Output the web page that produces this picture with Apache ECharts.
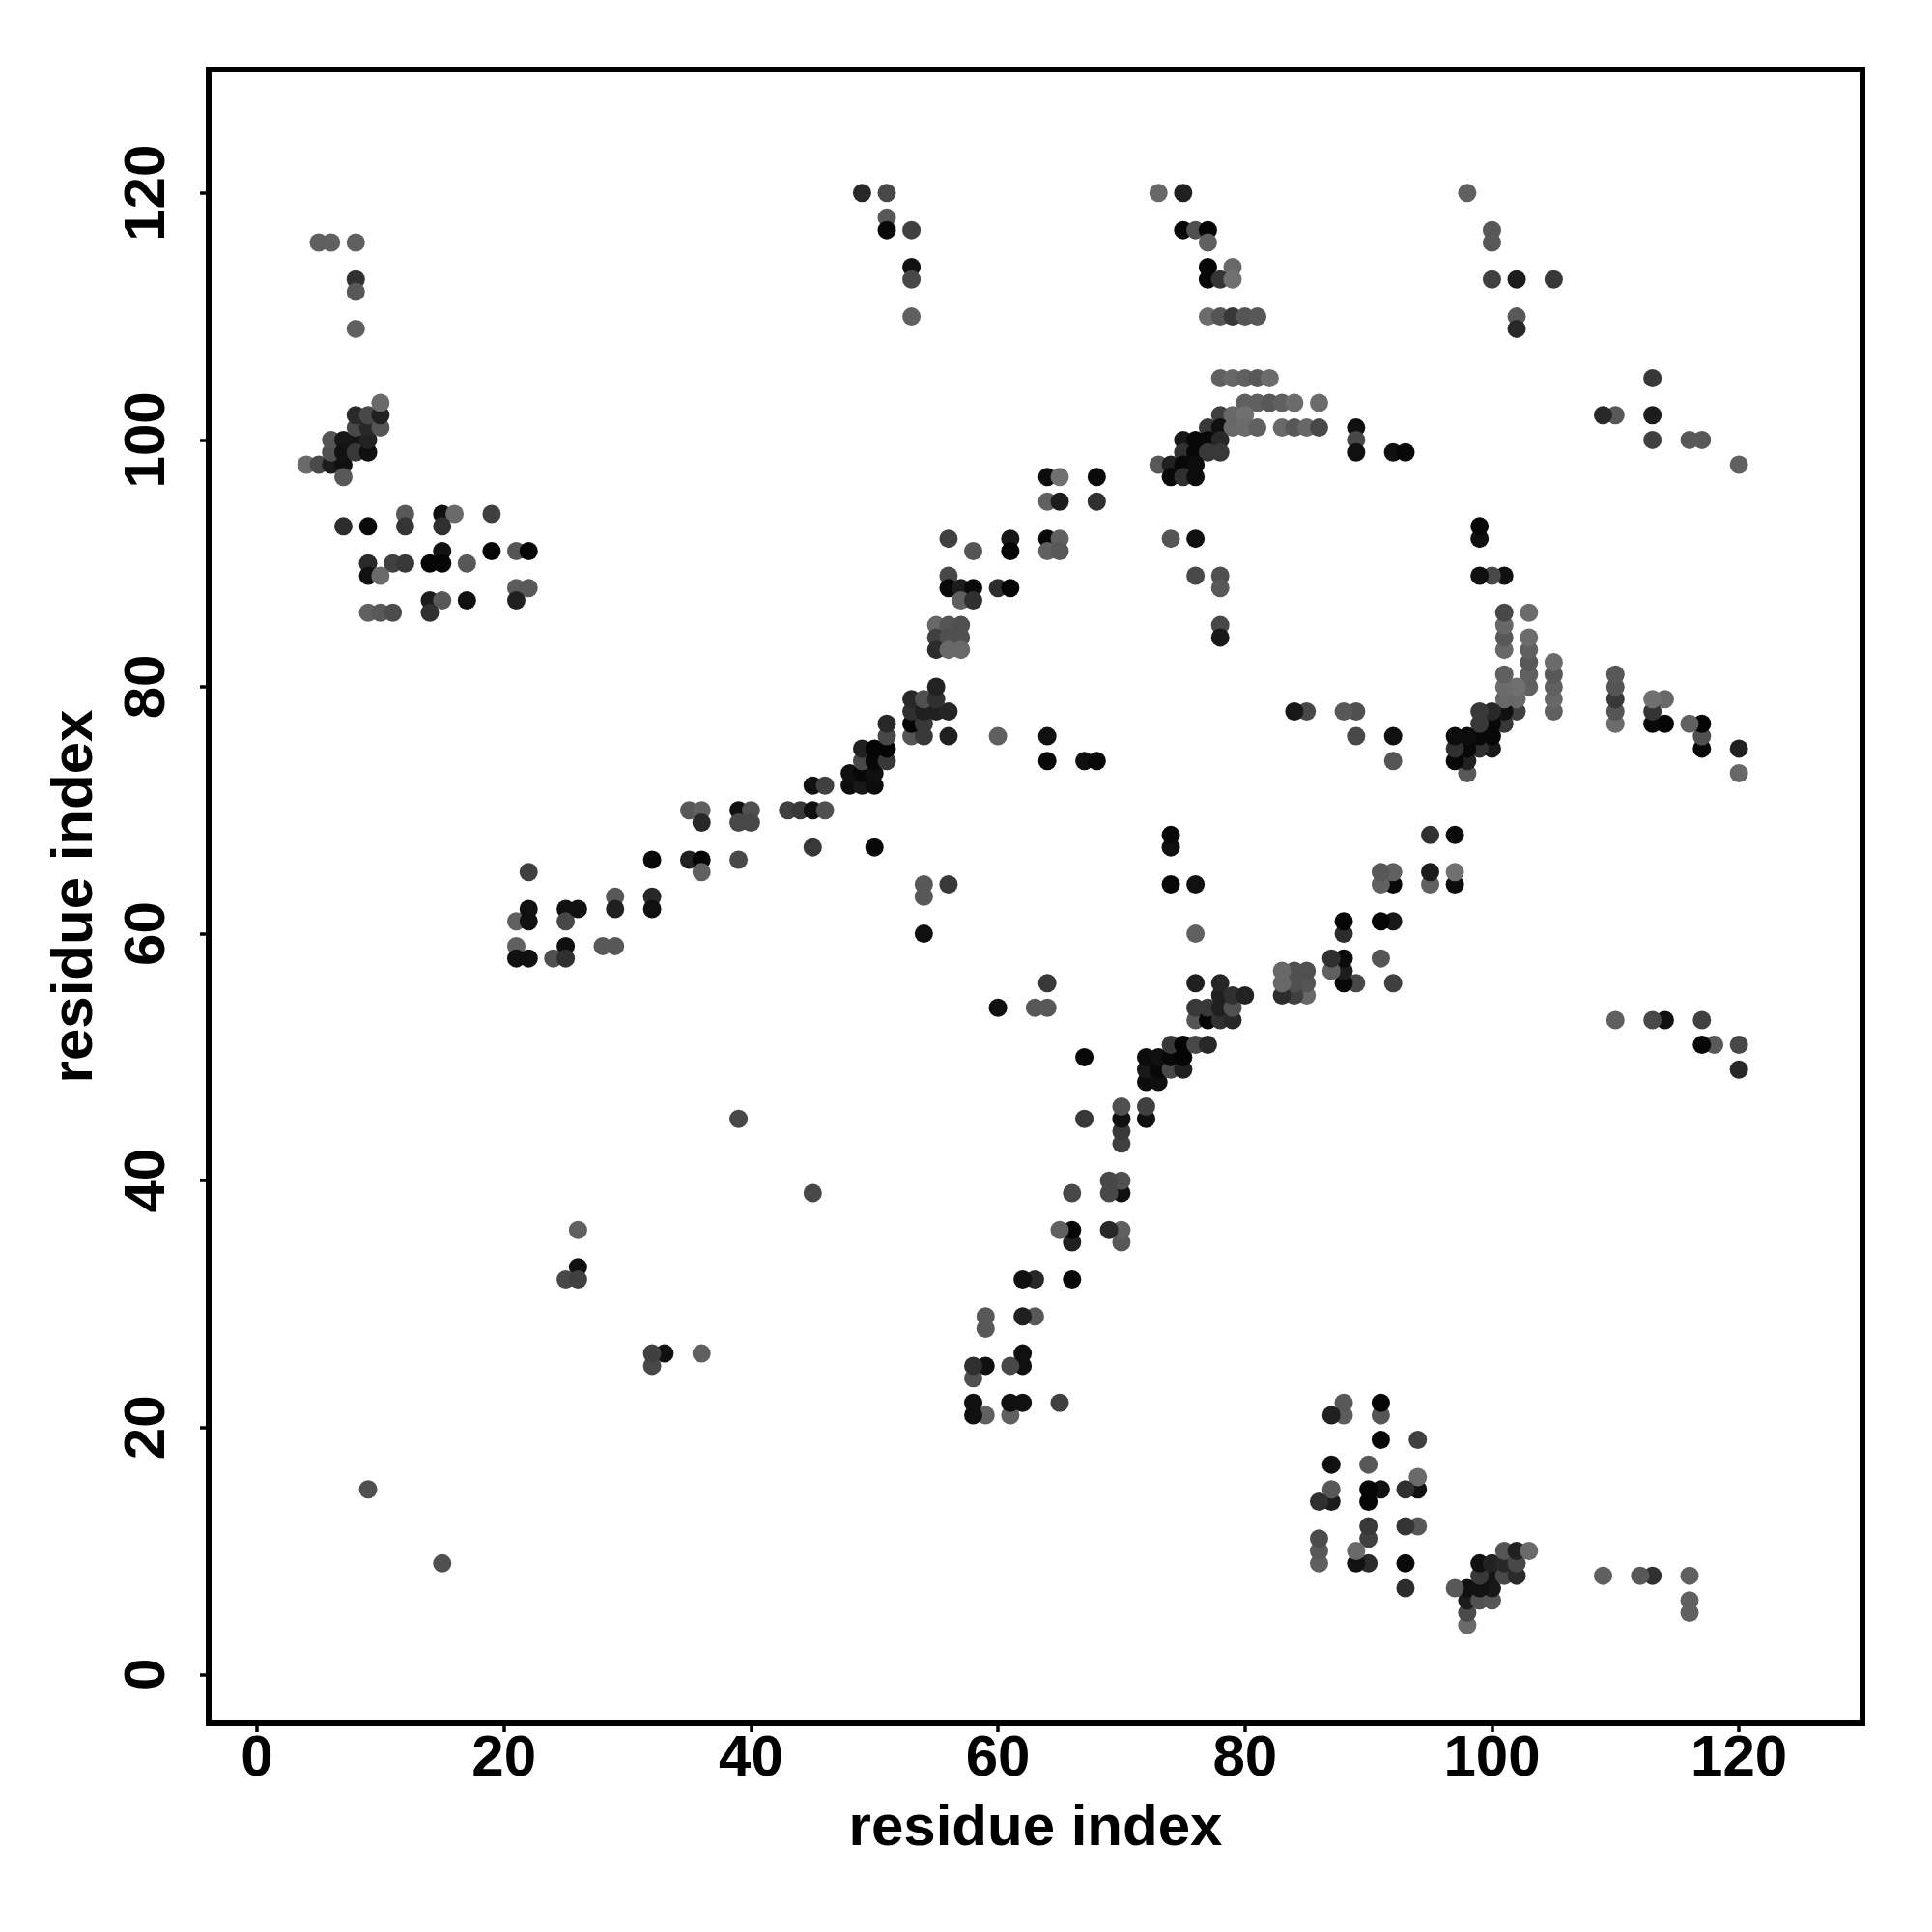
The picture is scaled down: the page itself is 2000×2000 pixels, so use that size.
<!DOCTYPE html>
<html><head><meta charset="utf-8">
<script src="https://cdn.jsdelivr.net/npm/echarts@6/dist/echarts.min.js"></script>
<style>html,body{margin:0;padding:0;background:#fff}#c{width:2000px;height:2000px}</style>
</head><body><div id="c"></div>
<script>
// Contacts: [residue i, residue j, grey level]. The map is symmetric, so each pair is listed once (i<j).
const xTicks=[0,20,40,60,80,100,120];
const yTicks=[0,20,40,60,80,100,120];
const axisTitle="residue index";
const clusterA=[[4,98,106],[5,98,74],[6,98,28],[7,98,16],[7,97,88],[6,99,80],[6,100,85],[7,100,24],[7,99,18],[8,100,21],[8,99,56],[9,99,16],[9,100,34],[8,101,72],[9,101,40],[8,102,42],[9,102,72],[10,101,85],[10,102,32],[10,103,106]];
const clusterB=[[12,94,88],[15,94,16],[16,94,106],[19,94,64],[7,93,44],[9,93,10],[12,93,53],[15,93,48],[15,91,18],[19,91,5],[21,91,85],[22,91,5],[9,90,42],[11,90,64],[12,90,56],[14,90,5],[15,90,5],[17,90,88],[9,89,18],[10,89,106],[21,88,92],[22,88,88],[14,87,28],[15,87,88],[17,87,16],[21,87,32],[9,86,96],[10,86,88],[11,86,76],[14,86,48]];
const clusterC=[[5,116,96],[6,116,96],[8,116,96],[8,113,48],[8,112,88],[8,109,96],[9,15,80]];
const clusterD=[[49,120,40],[51,120,72],[51,118,88],[51,117,8],[53,117,64],[53,114,16],[53,113,72],[53,110,96]];
const clusterE=[[73,120,104],[75,120,32],[75,117,8],[76,117,80],[77,117,5],[77,116,96],[77,114,5],[79,114,104],[77,113,8],[78,113,53],[79,113,112],[77,110,108],[78,110,85],[79,110,56],[80,110,85],[81,110,88],[78,105,96],[79,105,104],[80,105,96],[81,105,88],[82,105,108],[80,103,96],[81,103,96],[82,103,88],[83,103,96],[84,103,108],[86,103,108],[78,102,64],[79,102,104],[80,102,112],[77,101,56],[78,101,16],[79,101,104],[80,101,108],[81,101,96],[83,101,104],[84,101,88],[85,101,104],[86,101,72],[75,100,24],[76,100,8],[77,100,8],[78,100,40],[75,99,48],[76,99,8],[77,99,56],[78,99,56],[73,98,88],[74,98,32],[75,98,8],[76,98,12],[74,97,8],[75,97,48],[76,97,12]];
const clusterF=[[26,36,96],[26,33,16],[25,32,72],[26,32,64],[21,61,96],[21,59,96],[21,58,16],[22,65,64],[22,62,16],[22,61,16],[22,58,16],[24,58,80],[25,62,16],[25,61,72],[25,59,16],[25,58,48],[26,62,16],[28,59,88],[29,59,88],[29,63,88],[29,62,32],[32,66,8],[32,63,40],[32,62,16],[35,70,88],[35,66,32],[36,70,96],[36,69,40],[36,66,5],[36,65,96],[39,70,16],[39,69,72],[39,66,72],[40,70,80],[40,69,72],[39,45,72],[43,70,64],[44,70,56],[45,72,16],[45,70,16],[45,67,56],[46,72,64],[46,70,80]];
const clusterG=[[48,72,12],[49,72,24],[50,72,12],[48,73,16],[49,73,8],[50,73,16],[49,74,72],[50,74,8],[51,74,56],[49,75,32],[50,75,5],[51,75,5],[51,76,72],[51,77,40],[53,76,85],[54,76,56],[56,76,32],[60,76,96],[53,77,5],[54,77,56],[53,78,48],[54,78,32],[55,78,32],[56,78,37],[53,79,40],[54,79,80],[55,79,48],[55,80,34]];
const clusterH=[[64,97,12],[65,97,112],[68,97,10],[64,95,96],[65,95,28],[68,95,48],[56,92,64],[61,92,24],[64,92,8],[65,92,96],[58,91,85],[61,91,5],[64,91,96],[65,91,88],[56,89,72],[56,88,8],[57,88,28],[58,88,10],[60,88,44],[61,88,5],[57,87,96],[58,87,48],[55,85,104],[56,85,85],[57,85,80],[55,84,64],[56,84,80],[57,84,80],[55,83,44],[56,83,104],[57,83,104]];
const clusterI=[[54,64,88],[54,63,88],[54,60,16],[56,64,56],[64,76,16],[64,74,8],[67,74,16],[68,74,8],[50,67,8],[74,92,85],[76,92,16],[76,89,72],[78,89,80],[78,88,88],[78,85,72],[78,84,24],[89,101,16],[89,100,72],[89,99,16],[92,99,16],[93,99,8]];
const clusterJ=[[98,120,96],[100,117,88],[100,116,88],[100,113,64],[102,113,28],[105,113,56],[102,110,88],[102,109,40],[53,110,88],[53,113,56],[53,114,8],[53,117,16],[51,117,72],[51,118,85],[51,120,64],[49,120,56]];
const clusterK=[[101,86,72],[103,86,104],[101,85,104],[101,84,80],[103,84,108],[101,83,104],[103,83,88],[103,82,96],[105,82,108],[101,81,96],[103,81,96],[105,81,88],[110,81,88],[101,80,108],[102,80,112],[103,80,96],[105,80,96],[110,80,80],[101,79,96],[102,79,104],[105,79,104],[110,79,48],[113,79,108],[114,79,108],[101,78,16],[102,78,64],[105,78,80],[110,78,80],[113,78,44],[101,77,48],[110,77,104],[113,77,8],[114,77,8],[116,77,96],[117,77,2],[117,76,72],[117,75,5],[120,75,16],[120,73,88],[110,53,88],[113,53,48],[114,53,16],[117,53,32],[117,51,16],[118,51,64],[120,51,64],[120,49,56]];
const xMin=-3.91,xMax=130,yMin=-3.96,yMax=130;

const keyOf=(i,j)=>i<j?i+'_'+j:j+'_'+i;
const seen={};
const pairs=[];
[clusterA,clusterB,clusterC,clusterD,clusterE,clusterF,clusterG,clusterH,clusterI,clusterJ,clusterK].forEach(list=>list.forEach(p=>{
  const k=keyOf(p[0],p[1]);
  if(seen[k])return; seen[k]=1;
  pairs.push([Math.min(p[0],p[1]),Math.max(p[0],p[1]),p[2]]);
}));
const grey=g=>`rgb(${g},${g},${g})`;
const points=[];
pairs.forEach(p=>{points.push({value:[p[0],p[1]],itemStyle:{color:grey(p[2])}});
                  points.push({value:[p[1],p[0]],itemStyle:{color:grey(p[2])}});});
const font={fontFamily:'"Liberation Sans",Arial,sans-serif',fontWeight:'bold',fontSize:60,color:'#000'};
const chart=echarts.init(document.getElementById('c'),null,{renderer:'canvas'});
chart.setOption({
  animation:false,backgroundColor:'#fff',
  grid:{left:216,top:72,width:1712,height:1712,show:true,borderColor:'#000',borderWidth:6,backgroundColor:'transparent',containLabel:false},
  xAxis:{type:'value',min:xMin,max:xMax,splitLine:{show:false},
    axisLine:{show:false,onZero:false},
    axisTick:{show:true,customValues:xTicks,length:9,lineStyle:{color:'#000',width:3.5}},
    axisLabel:{show:true,customValues:xTicks,margin:7,...font},
    name:axisTitle,nameLocation:'middle',nameGap:79,nameTextStyle:{...font}},
  yAxis:{type:'value',min:yMin,max:yMax,splitLine:{show:false},
    axisLine:{show:false,onZero:false},
    axisTick:{show:true,customValues:yTicks,length:9,lineStyle:{color:'#000',width:3.5}},
    axisLabel:{show:true,customValues:yTicks,margin:33,rotate:90,...font},
    name:axisTitle,nameLocation:'middle',nameGap:108,nameRotate:90,nameTextStyle:{...font}},
  series:[{type:'scatter',symbol:'circle',symbolSize:19,data:points,silent:true,itemStyle:{opacity:1}}]
});
</script></body></html>
